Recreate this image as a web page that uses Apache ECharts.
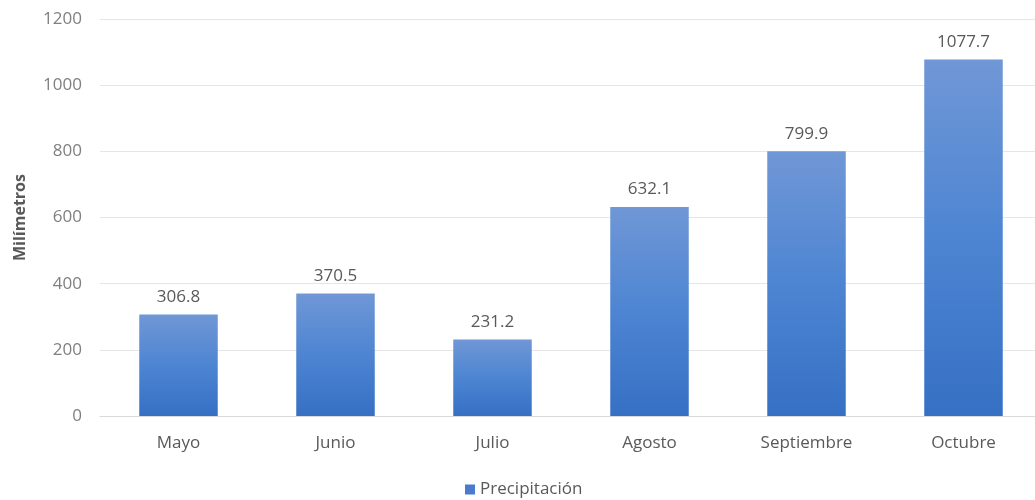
<!DOCTYPE html>
<html>
<head>
<meta charset="utf-8">
<script src="https://cdn.jsdelivr.net/npm/echarts@6/dist/echarts.min.js"></script>
<style>
  html, body { margin: 0; padding: 0; background: #ffffff; overflow: hidden; }
  #chart { width: 1042px; height: 500px; }
</style>
</head>
<body>
<div id="chart"></div>
<script>
// Monthly rainfall, May to October
const months = ['Mayo', 'Junio', 'Julio', 'Agosto', 'Septiembre', 'Octubre'];
const precipitation = [306.8, 370.5, 231.2, 632.1, 799.9, 1077.7];
const seriesName = 'Precipitación';
const axisTitle = 'Milímetros';

const chart = echarts.init(document.getElementById('chart'));
const textColor = '#595959';
const font = '"Open Sans", Lato, sans-serif';

chart.setOption({
  animation: false,
  textStyle: { fontFamily: font },
  grid: { left: 100, top: 19, right: 0, bottom: 84, containLabel: false },
  legend: {
    top: 481,
    left: 465,
    padding: 0,
    itemWidth: 10,
    itemHeight: 10,
    itemGap: 4,
    icon: 'rect',
    itemStyle: { color: '#4a7bcc' },
    textStyle: { color: textColor, fontSize: 17, fontFamily: font },
    data: [seriesName]
  },
  xAxis: {
    type: 'category',
    data: months,
    axisLine: { show: true, lineStyle: { color: '#d9d9d9' } },
    axisTick: { show: false },
    axisLabel: { color: textColor, fontSize: 17, margin: 19, fontFamily: font }
  },
  yAxis: {
    type: 'value',
    min: 0,
    max: 1200,
    interval: 200,
    name: axisTitle,
    nameLocation: 'middle',
    nameGap: 72,
    nameRotate: 90,
    nameTextStyle: { color: textColor, fontSize: 16, fontWeight: 'bold', fontFamily: font },
    axisLine: { show: false },
    axisTick: { show: false },
    axisLabel: {
      color: '#7f7f7f', fontSize: 17, margin: 18, fontFamily: font,
      formatter: v => String(v)
    },
    splitLine: { lineStyle: { color: '#e6e6e6', width: 1 } }
  },
  series: [{
    name: seriesName,
    type: 'bar',
    data: precipitation,
    barWidth: '50%',
    itemStyle: {
      color: new echarts.graphic.LinearGradient(0, 0, 0, 1, [
        { offset: 0, color: '#7097d6' },
        { offset: 0.5, color: '#4d85d2' },
        { offset: 1, color: '#3670c4' }
      ])
    },
    label: {
      show: true,
      position: 'top',
      distance: 9,
      color: textColor,
      fontSize: 17,
      fontFamily: font,
      formatter: p => p.value.toFixed(1)
    }
  }]
});
</script>
</body>
</html>
